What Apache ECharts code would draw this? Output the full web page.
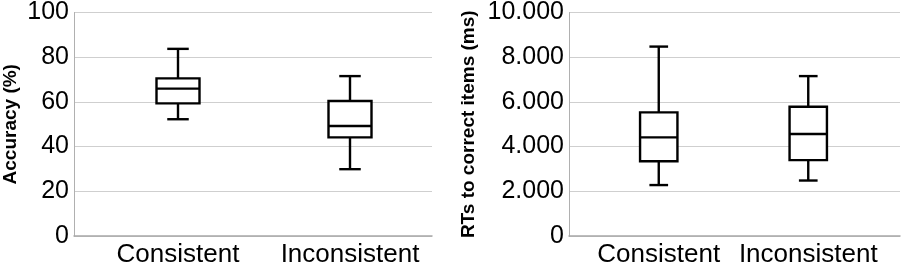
<!DOCTYPE html>
<html>
<head>
<meta charset="utf-8">
<script src="https://cdn.jsdelivr.net/npm/echarts@6/dist/echarts.min.js"></script>
<style>html,body{margin:0;padding:0;background:#fff;}#c{width:902px;height:268px;}</style>
</head>
<body>
<div id="c"></div>
<script>
// ---- data ----
const categories = ['Consistent', 'Inconsistent'];
// [min, Q1, median, Q3, max]
const accuracyConsistent = [51, 58, 64.5, 69, 82];
const accuracyInconsistent = [29, 43, 48, 59, 70];
const rtConsistent = [2200, 3250, 4300, 5400, 8300];
const rtInconsistent = [2400, 3300, 4450, 5650, 7000];
const accuracyTicks = [0, 20, 40, 60, 80, 100];
const rtTicks = [0, 2000, 4000, 6000, 8000, 10000];
const accuracyTitle = 'Accuracy (%)';
const rtTitle = 'RTs to correct items (ms)';

const FONT = 'Liberation Sans';
const chart = echarts.init(document.getElementById('c'), null, {renderer: 'canvas'});

function fmtDot(v) {
  return String(v).replace(/\B(?=(\d{3})+(?!\d))/g, '.');
}

function renderBox(params, api) {
  const x = api.value(0);
  const v = [api.value(1), api.value(2), api.value(3), api.value(4), api.value(5)];
  const p = v.map(val => api.coord([x, val]));
  const band = api.size([1, 0])[0];
  const bw = band * 0.25;
  const cx = p[0][0];
  const cap = bw / 4;
  const st = {stroke: '#000', lineWidth: 2.4, fill: null};
  return {
    type: 'group',
    children: [
      {type: 'line', shape: {x1: cx, y1: p[0][1], x2: cx, y2: p[1][1]}, style: st},
      {type: 'line', shape: {x1: cx, y1: p[3][1], x2: cx, y2: p[4][1]}, style: st},
      {type: 'line', shape: {x1: cx - cap, y1: p[0][1], x2: cx + cap, y2: p[0][1]}, style: st},
      {type: 'line', shape: {x1: cx - cap, y1: p[4][1], x2: cx + cap, y2: p[4][1]}, style: st},
      {type: 'rect', shape: {x: cx - bw / 2, y: p[3][1], width: bw, height: p[1][1] - p[3][1]}, style: {stroke: '#000', lineWidth: 2.4, fill: '#fff'}},
      {type: 'line', shape: {x1: cx - bw / 2, y1: p[2][1], x2: cx + bw / 2, y2: p[2][1]}, style: st}
    ]
  };
}

function frameY(ticks, title, gridIndex, nameGap, fmt) {
  return {
    type: 'value', gridIndex: gridIndex,
    min: ticks[0], max: ticks[ticks.length - 1], interval: ticks[1] - ticks[0],
    axisLine: {show: true, lineStyle: {color: '#b0b0b0', width: 1}},
    axisTick: {show: false},
    splitLine: {show: true, lineStyle: {color: '#cfcfcf', width: 1}},
    axisLabel: {color: '#000', fontFamily: FONT, fontSize: 25, margin: 5, formatter: fmt, padding: [8, 0, 0, 0]},
    name: title, nameLocation: 'middle', nameGap: nameGap, nameRotate: 90,
    nameTextStyle: {color: '#000', fontFamily: FONT, fontSize: 19, fontWeight: 'bold'}
  };
}
function dataY(ticks, gridIndex) {
  return {
    type: 'value', gridIndex: gridIndex,
    min: ticks[0], max: ticks[ticks.length - 1], interval: ticks[1] - ticks[0],
    show: false, splitLine: {show: false}
  };
}
function catX(gridIndex, showLabels) {
  return {
    type: 'category', gridIndex: gridIndex, data: categories,
    axisLine: showLabels ? {show: false} : {lineStyle: {color: '#a8a8a8', width: 1.5}},
    axisTick: {show: false},
    axisLabel: showLabels ? {show: true, interval: 0, color: '#000', fontFamily: FONT, fontSize: 26, margin: 7} : {show: false}
  };
}

const option = {
  backgroundColor: '#fff',
  animation: false,
  grid: [
    {left: 72, right: 470, top: 8, bottom: 32},   // frame left
    {left: 92, right: 466, top: 8, bottom: 32},   // data left
    {left: 569, right: 2, top: 8, bottom: 32},    // frame right
    {left: 584, right: 19, top: 8, bottom: 32}    // data right
  ],
  xAxis: [catX(0, false), catX(1, true), catX(2, false), catX(3, true)],
  yAxis: [
    frameY(accuracyTicks, accuracyTitle, 0, 54, v => String(v)),
    dataY(accuracyTicks, 1),
    frameY(rtTicks, rtTitle, 2, 91, v => fmtDot(v)),
    dataY(rtTicks, 3)
  ],
  series: [
    {
      type: 'custom', xAxisIndex: 1, yAxisIndex: 1, renderItem: renderBox,
      encode: {x: 0, y: [1, 2, 3, 4, 5]},
      data: [[0].concat(accuracyConsistent), [1].concat(accuracyInconsistent)]
    },
    {
      type: 'custom', xAxisIndex: 3, yAxisIndex: 3, renderItem: renderBox,
      encode: {x: 0, y: [1, 2, 3, 4, 5]},
      data: [[0].concat(rtConsistent), [1].concat(rtInconsistent)]
    }
  ]
};
chart.setOption(option);
</script>
</body>
</html>
